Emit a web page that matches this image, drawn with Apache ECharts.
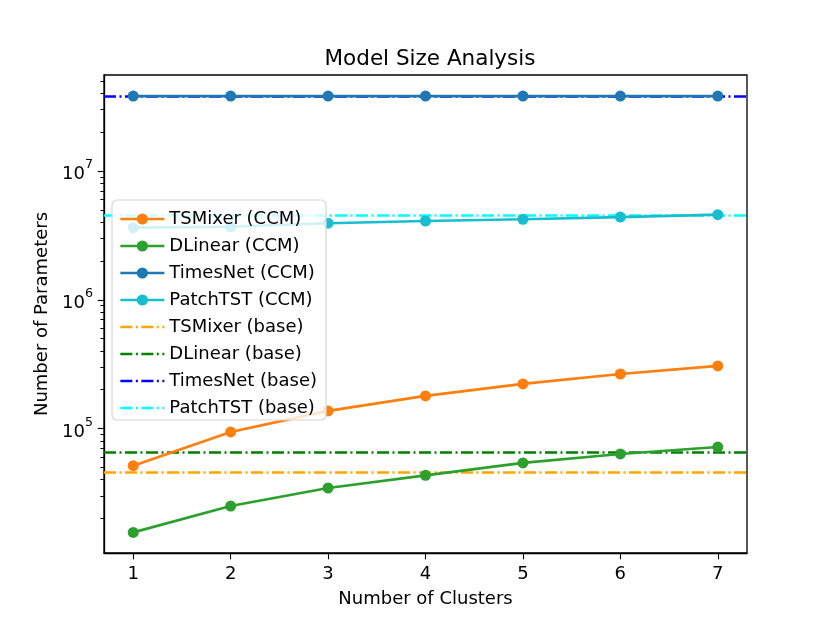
<!DOCTYPE html>
<html>
<head>
<meta charset="utf-8">
<script src="https://cdn.jsdelivr.net/npm/echarts@6/dist/echarts.min.js"></script>
<style>
  html, body { margin: 0; padding: 0; background: #fff; }
  #chart { width: 830px; height: 623px; }
</style>
</head>
<body>
<div id="chart"></div>
<script>
// number of clusters on the x axis
const clusters = [1, 2, 3, 4, 5, 6, 7]

// CCM variants, parameter counts
const tsmixerCCM = [51400, 94000, 137000, 179000, 222000, 265000, 306000]
const dlinearCCM = [15600, 25000, 34500, 43300, 54000, 63400, 71800]
const timesnetCCM = [38200000, 38200000, 38200000, 38200000, 38200000, 38200000, 38200000]
const patchtstCCM = [3630000, 3690000, 3930000, 4090000, 4220000, 4390000, 4580000]

// base models (horizontal reference lines)
const tsmixerBase = 45900
const dlinearBase = 65300
const timesnetBase = 38200000
const patchtstBase = 4550000

// axis ticks
const yMajorTicks = [1e5, 1e6, 1e7]
const yDecades = [1e4, 1e5, 1e6, 1e7]
const yMin = 10790
const yMax = 55680000

const yMinorTicks = []
yDecades.forEach(d => {
    for (let k = 2; k <= 9; k++) {
        const v = d * k
        if (v > yMin && v < yMax) yMinorTicks.push(v)
    }
})

const FONT = 'DejaVu Sans'
const dashDot = [12, 3.5, 2, 3.5]

function ccmSeries(name, color, values) {
    return {
        name: name,
        type: 'line',
        data: clusters.map((c, i) => [c, values[i]]),
        symbol: 'circle',
        symbolSize: 11,
        z: 5,
        itemStyle: { color: color },
        lineStyle: { color: color, width: 2.7 }
    }
}

// base line: only a markLine, the (empty) series carries the legend entry
function baseSeries(name, color, value) {
    return {
        name: name,
        type: 'line',
        data: [],
        symbol: 'circle',
        z: 3,
        itemStyle: { color: color, opacity: 0 },
        lineStyle: { color: color, width: 2.7, type: dashDot },
        markLine: {
            silent: true,
            symbol: ['none', 'none'],
            label: { show: false },
            lineStyle: { color: color, width: 2.7, type: dashDot, opacity: 1 },
            data: [{ yAxis: value }]
        }
    }
}

function initChart() {
    const chart = echarts.init(document.getElementById('chart'), null, { renderer: 'canvas' })
    const option = {
        animation: false,
        backgroundColor: '#fff',
        textStyle: { fontFamily: FONT },
        title: {
            text: 'Model Size Analysis',
            left: 425,
            top: 43,
            textAlign: 'center',
            textStyle: { fontFamily: FONT, fontSize: 21.5, fontWeight: 'normal', color: '#000' }
        },
        grid: {
            left: 104, right: 83, top: 75, bottom: 70,
            show: true, borderColor: '#000', borderWidth: 1.3,
            containLabel: false
        },
        legend: {
            orient: 'vertical',
            left: 112,
            top: 200,
            z: 20,
            itemWidth: 44,
            itemHeight: 14,
            itemGap: 9,
            padding: [10, 9, 3, 7],
            backgroundColor: 'rgba(255,255,255,0.8)',
            borderColor: '#d6d6d6',
            borderWidth: 1.2,
            borderRadius: 5,
            lineStyle: { width: 2.7 },
            textStyle: { fontFamily: FONT, fontSize: 18, color: '#000' },
            data: ['TSMixer (CCM)', 'DLinear (CCM)', 'TimesNet (CCM)', 'PatchTST (CCM)',
                'TSMixer (base)', 'DLinear (base)', 'TimesNet (base)', 'PatchTST (base)']
        },
        xAxis: {
            type: 'value',
            min: 0.7,
            max: 7.3,
            name: 'Number of Clusters',
            nameLocation: 'middle',
            nameGap: 37,
            nameTextStyle: { fontFamily: FONT, fontSize: 18, color: '#000' },
            splitLine: { show: false },
            axisLine: { show: true, onZero: false, lineStyle: { color: '#000', width: 1.3 } },
            axisTick: { show: true, length: 6.3, lineStyle: { color: '#000', width: 1.1 }, customValues: clusters },
            axisLabel: { fontFamily: FONT, fontSize: 18, color: '#000', margin: 12, customValues: clusters }
        },
        yAxis: [
            {
                type: 'log',
                logBase: 10,
                min: yMin,
                max: yMax,
                name: 'Number of Parameters',
                nameLocation: 'middle',
                nameGap: 52,
                nameRotate: 90,
                nameTextStyle: { fontFamily: FONT, fontSize: 18, color: '#000' },
                splitLine: { show: false },
                axisLine: { show: true, lineStyle: { color: '#000', width: 1.3 } },
                axisTick: { show: true, length: 6.3, lineStyle: { color: '#000', width: 1.1 }, customValues: yMajorTicks },
                axisLabel: {
                    customValues: yMajorTicks,
                    margin: 11,
                    formatter: function (v) {
                        return '{b|10}{s|' + Math.round(Math.log10(v)) + '}'
                    },
                    rich: {
                        b: { fontFamily: FONT, fontSize: 18, color: '#000', padding: [7, 0, 0, 0] },
                        s: { fontFamily: FONT, fontSize: 12.6, color: '#000', verticalAlign: 'top' }
                    }
                }
            },
            {
                type: 'log',
                logBase: 10,
                min: yMin,
                max: yMax,
                splitLine: { show: false },
                axisLine: { show: false },
                position: 'left',
                axisTick: { show: true, length: 3.6, lineStyle: { color: '#000', width: 1 }, customValues: yMinorTicks },
                axisLabel: { show: false }
            }
        ],
        series: [
            baseSeries('TSMixer (base)', '#ffa500', tsmixerBase),
            baseSeries('DLinear (base)', '#008000', dlinearBase),
            baseSeries('TimesNet (base)', '#0000ff', timesnetBase),
            baseSeries('PatchTST (base)', '#00ffff', patchtstBase),
            ccmSeries('TSMixer (CCM)', '#ff7f0e', tsmixerCCM),
            ccmSeries('DLinear (CCM)', '#2ca02c', dlinearCCM),
            ccmSeries('TimesNet (CCM)', '#1f77b4', timesnetCCM),
            ccmSeries('PatchTST (CCM)', '#17becf', patchtstCCM)
        ]
    }
    chart.setOption(option)
}

document.addEventListener('DOMContentLoaded', function () {
    initChart()
})
</script>
</body>
</html>
